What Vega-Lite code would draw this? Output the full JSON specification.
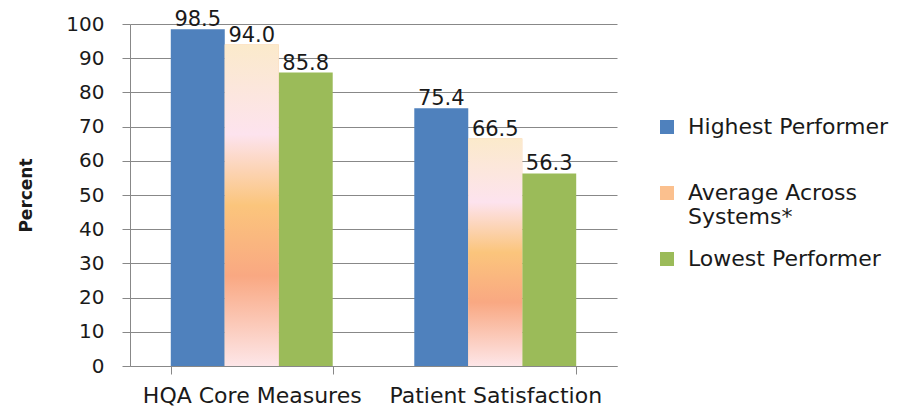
{
  "$schema": "https://vega.github.io/schema/vega-lite/v6.json",
  "width": 487,
  "height": 342,
  "autosize": {"type": "none"},
  "padding": {"left": 130, "top": 24, "right": 296, "bottom": 50},
  "background": "white",
  "config": {
    "font": "DejaVu Sans",
    "view": {"stroke": null},
    "axis": {"labelFont": "DejaVu Sans", "titleFont": "DejaVu Sans", "labelColor": "#1a1a1a", "titleColor": "#1a1a1a", "domainColor": "#888888", "tickColor": "#888888", "gridColor": "#888888"}
  },
  "data": {
    "values": [
      {"measure": "HQA Core Measures", "series": "Highest  Performer", "value": 98.5},
      {"measure": "HQA Core Measures", "series": "Average Across Systems*", "value": 94.0},
      {"measure": "HQA Core Measures", "series": "Lowest Performer", "value": 85.8},
      {"measure": "Patient Satisfaction", "series": "Highest  Performer", "value": 75.4},
      {"measure": "Patient Satisfaction", "series": "Average Across Systems*", "value": 66.5},
      {"measure": "Patient Satisfaction", "series": "Lowest Performer", "value": 56.3}
    ]
  },
  "encoding": {
    "x": {
      "field": "measure", "type": "nominal",
      "scale": {"paddingInner": 0.335, "paddingOuter": 0.1675},
      "axis": {"title": null, "labelAngle": 0, "labelFontSize": 22, "labelPadding": 11, "labelLimit": 400, "tickBand": "extent", "tickSize": 8, "domainColor": "#888888", "labelColor": "#1a1a1a"}
    },
    "xOffset": {"field": "series", "type": "nominal", "sort": ["Highest  Performer", "Average Across Systems*", "Lowest Performer"], "scale": {"paddingInner": 0, "paddingOuter": 0}},
    "y": {
      "field": "value", "type": "quantitative",
      "scale": {"domain": [0, 100]},
      "axis": {"title": "Percent", "titleFontSize": 17, "titleFontWeight": "bold", "titleX": -104, "titleY": 171, "titleAngle": -90, "titleAlign": "center", "titleBaseline": "middle", "labelFontSize": 20, "labelPadding": 18, "tickSize": 8, "values": [0,10,20,30,40,50,60,70,80,90,100], "grid": true, "gridColor": "#888888", "domain": true}
    }
  },
  "layer": [
    {
      "mark": {"type": "bar"},
      "encoding": {
        "color": {
          "field": "series", "type": "nominal",
          "sort": ["Highest  Performer", "Average Across Systems*", "Lowest Performer"],
          "scale": {"domain": ["Highest  Performer", "Average Across Systems*", "Lowest Performer"], "range": ["#4F81BD", "#FBC08E", "#9BBB59"]},
          "legend": {
            "title": null, "orient": "none", "legendX": 526, "legendY": 92,
            "symbolType": "square", "symbolSize": 196, "symbolStrokeWidth": 0,
            "labelFontSize": 22, "labelColor": "#1a1a1a", "labelFont": "DejaVu Sans", "rowPadding": 20, "labelOffset": 10,
            "labelExpr": "datum.label == 'Average Across Systems*' ? ['Average Across', 'Systems*'] : datum.label == 'Highest  Performer' ? ['Highest  Performer', ' '] : datum.label",
            "labelBaseline": "middle", "labelLimit": 300
          }
        }
      }
    },
    {
      "transform": [{"filter": "datum.series == 'Average Across Systems*'"}],
      "mark": {"type": "bar", "color": {"gradient": "linear", "x1": 0, "y1": 0, "x2": 0, "y2": 1, "stops": [{"offset": 0, "color": "#FBEACB"}, {"offset": 0.28, "color": "#FDE3EE"}, {"offset": 0.5, "color": "#FBC57C"}, {"offset": 0.72, "color": "#F9A882"}, {"offset": 1, "color": "#FDE6E8"}]}},
      "encoding": {}
    },
    {
      "mark": {"type": "text", "baseline": "bottom", "dy": 1, "fontSize": 21, "color": "#1a1a1a", "font": "DejaVu Sans"},
      "encoding": {"text": {"field": "value", "type": "quantitative", "format": ".1f"}}
    }
  ]
}
